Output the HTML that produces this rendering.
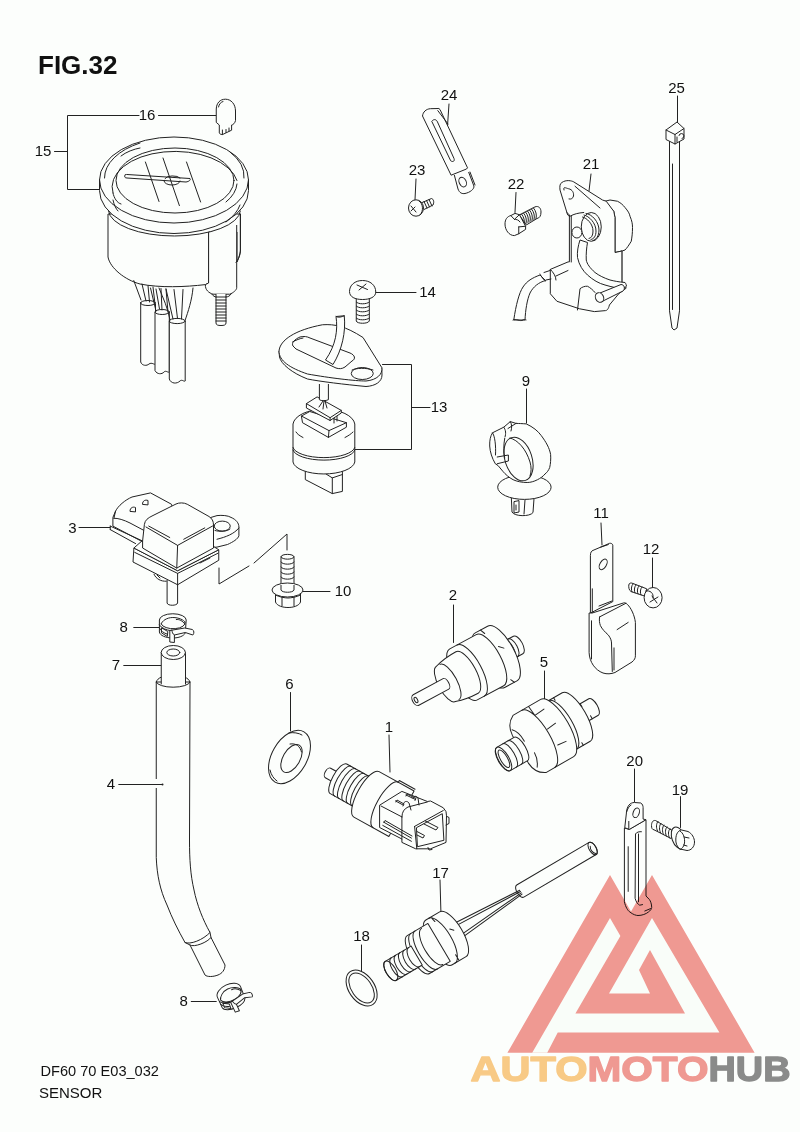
<!DOCTYPE html>
<html><head><meta charset="utf-8">
<style>
html,body{margin:0;padding:0;background:#fcfefc;}
body{width:800px;height:1132px;overflow:hidden;}
svg{display:block;}
.t{font-family:"Liberation Sans",sans-serif;font-size:15px;fill:#111;}
.l{fill:none;stroke:#222;stroke-width:1;stroke-linecap:round;stroke-linejoin:round;}
.w{fill:#fcfefc;stroke:#222;stroke-width:1;stroke-linejoin:round;}
</style></head><body>
<svg width="800" height="1132" viewBox="0 0 800 1132">
<rect width="800" height="1132" fill="#fcfefc"/>
<!-- TITLES -->
<text x="38" y="74" font-family="Liberation Sans" font-weight="bold" font-size="26" fill="#111">FIG.32</text>
<text x="40.5" y="1076.3" font-family="Liberation Sans" font-size="14.6" fill="#111">DF60 70 E03_032</text>
<text x="39" y="1098.4" font-family="Liberation Sans" font-size="15" fill="#111">SENSOR</text>
<!-- LABELS -->
<g class="t" text-anchor="middle">
<text x="147" y="119.8">16</text>
<text x="43" y="155.8">15</text>
<text x="427.5" y="296.8">14</text>
<text x="439" y="412.3">13</text>
<text x="449" y="99.8">24</text>
<text x="417" y="174.8">23</text>
<text x="516" y="188.8">22</text>
<text x="591" y="168.8">21</text>
<text x="676.5" y="92.8">25</text>
<text x="526" y="386.3">9</text>
<text x="601" y="517.8">11</text>
<text x="651" y="553.8">12</text>
<text x="72.5" y="532.8">3</text>
<text x="343" y="595.8">10</text>
<text x="123.75" y="631.8">8</text>
<text x="116" y="669.8">7</text>
<text x="453" y="599.8">2</text>
<text x="544" y="667.3">5</text>
<text x="289.4" y="689.2">6</text>
<text x="389" y="731.8">1</text>
<text x="111" y="789.3">4</text>
<text x="634.7" y="766.4">20</text>
<text x="680" y="794.8">19</text>
<text x="440.5" y="877.8">17</text>
<text x="361.5" y="940.8">18</text>
<text x="183.75" y="1005.8">8</text>
</g>
<!-- LEADERS -->
<path class="l" d="M139,115.5 H67.5 V189.5 H100 M54.5,151.5 H67.5 M158.5,115.5 H216
M376,292.5 H416 M382.5,364.5 H411.5 V449.5 H355 M411.5,407.5 H430
M449,104 L447.5,126 M416,179 L415,200 M516,192.5 L515,212.5 M591,174 L589,191 M677.5,96 V122
M526.5,389 V423 M601,523 L602,545 M652.5,558 V588 M79,527.5 L110,527.5 M303,591.5 H330
M133.75,627.5 H158.75 M123.75,665.5 H161.25 M453.5,605 V642.5 M544.5,671 V700 M290.5,692.5 V731
M389,735 L390,772 M118.75,784.5 H156 M634.5,769 V802 M680.5,796.6 V827.5 M440,880 L441,915
M361.5,945 V971 M191.25,1001.5 H216.25"/>
<!-- PARTS -->
<g id="parts">
<g id="gauge">
<!-- body cylinder -->
<path class="w" d="M108,214 L108,257 C110,268 125,280 140,284 C160,288 185,287 205.4,284.6 L208.6,283 L208.6,232 L237,232 L237,262 C239,258 240.4,252 240.4,250 L240.4,214 Z"/>
<!-- bracket -->
<path class="w" d="M208.6,232.2 L208.6,283 L205.4,284.6 C205,290 209,293 213,294.2 L229.8,294.2 C233,293 236.7,290 236.7,287.8 L236.7,225"/>
<path class="l" d="M240.4,214 L240.4,251.8 C240,256 238,260 236,262.4"/>
<!-- stud -->
<path class="w" d="M216,294 L216,323 C216,325 218,325.5 221,325.5 C224,325.5 226,325 226,323 L226,294"/>
<path class="l" d="M216,297 H226 M216,300 H226 M216,303 H226 M216,306 H226 M216,309 H226 M216,312 H226 M216,315 H226 M216,318 H226 M216,321 H226"/>
<path class="l" d="M211.8,294.2 C213,296 215,297 216,297 M226,297 C228,297 230,296 231,294"/>
<!-- bezel -->
<path class="w" d="M99.5,180 L99.5,190.5 A74.5,43 0 0 0 248.5,190.5 L248.5,180 A74.5,43 0 0 0 99.5,180 Z"/>
<path class="l" d="M108.5,211 A66,26 0 0 0 240.4,211 M99.5,180 A74.5,43 0 0 0 248.5,180"/>
<path class="l" d="M104.5,178 A69.5,40 0 0 1 140,143 M230,152 A69.5,40 0 0 1 244,178 M226,222 A69.5,40 0 0 0 240,205 "/>
<path class="l" d="M121,156 C126,152 134,149 140,148 M113,193 C114,198 117,203 121,204 M113,200 C114,205 116,209 118,211"/>
<path class="l" d="M113,193 A62,34.8 0 0 1 237,180.5 M237,184 A62,34.8 0 0 1 226,202"/>
<ellipse class="l" cx="175" cy="180.5" rx="59" ry="32.5"/>
<!-- needle -->
<path class="l" d="M125,175 C124,177 125,178 127,178 L186,182 C189,181.5 191,180 190,178.5 L127,174.5 Z"/>
<path class="l" d="M164,181 A8,4 0 0 0 180,181 M165,178.5 A8,3.5 0 0 1 180,178"/>
<path class="l" d="M145.4,162 L159,201.5 M163,158 L179.4,205.6 M186.5,162 L200.6,202"/>
</g>
<g id="wires">
<path class="w" d="M140.7,302 L140.7,362 C142,366 147,366 149,364 C152,362 154,365 155.5,364 L155.5,304"/>
<ellipse class="l" cx="148" cy="303" rx="7.4" ry="2.5"/>
<path class="w" d="M155,312 L155,370.6 C157,374.5 162,374.5 164,372 C166,370 168,373 169.3,372 L169.3,312"/>
<ellipse class="l" cx="162.2" cy="312" rx="7.2" ry="2.5"/>
<path class="w" d="M169.3,321 L169.3,379 C171,384 177,384 180,381 C182,379 184,382 185.2,381 L185.2,321"/>
<ellipse class="l" cx="177.2" cy="321" rx="8" ry="2.6"/>
<path class="l" d="M133.8,280.6 L141,300 M142,284 L146,301 M148,285.5 L149.5,302 M153,287 L155,304
M150.5,288 L156,311 M156,289 L159.5,309 M161,288.5 L162,310 M166,289 L168,312
M159,288 C163,298 168,308 170,320 M166,289 L173,319 M174,289.5 L177.5,318.5 M183,289.5 L181.5,319 M193,288 C192,300 188,312 185.2,320"/>
</g>
<g id="p14">
<path class="w" d="M356.25,298 L356.25,321 C357,324 368,324 369.3,321 L369.3,298"/>
<path class="l" d="M356.25,302 C358,304.5 367,304.5 369.3,302 M356.25,306 C358,308.5 367,308.5 369.3,306 M356.25,310 C358,312.5 367,312.5 369.3,310 M356.25,314 C358,316.5 367,316.5 369.3,314 M356.25,318 C358,320.5 367,320.5 369.3,318"/>
<path class="w" d="M349.5,291.5 C349.5,285 355,280.5 362.5,280.5 C370,280.5 375.75,285 375.75,292 C375.75,297 370,299.5 362.5,299.5 C355,299.5 349.5,297 349.5,291.5 Z"/>
<path class="l" d="M357,285 L367.5,289.5 M359,290 L366,284"/>
</g>
<g id="p13">
<!-- bottom connector -->
<path class="w" d="M305.3,470 L305.3,479.6 L332.3,493.6 L342.4,491.4 L342.4,470"/>
<path class="l" d="M332.3,477.9 L332.3,493.6 M326,474 L332.3,477.9 L342.4,474.5"/>
<!-- cylinder -->
<path class="w" d="M293,424 L293,462 A31,13 0 0 0 354.8,462 L354.8,424 A31,16 0 0 0 293,424 Z"/>
<path class="l" d="M293,447.5 A31,11 0 0 0 354.8,447.5 M293,450 A31,11 0 0 0 354.8,450"/>
<path class="l" d="M296,432 C297,434 300,436 303,437.5 M345,437.5 C348,436 351,434 353,432"/>
<!-- lower block -->
<path class="w" d="M301.4,416 L309.8,411.5 L346.4,422.7 L346.4,427.2 L328.4,437.4 L302.5,422.7 Z"/>
<path class="l" d="M301.4,416 L329,430.6 L346.4,422.7 M329,430.6 L328.4,437.4"/>
<!-- upper block -->
<path class="w" d="M306.4,403.6 L317.1,396.9 L341.3,410.4 L341.3,413 L330.1,420.5 L306.4,408 Z"/>
<path class="l" d="M306.4,403.6 L330.1,417.7 L341.3,410.4 M330.1,417.7 L330.1,420.5 M334,418.5 L334,423 M337,416.5 L337,421"/>
<!-- stem -->
<path class="w" d="M319.4,384 L319.4,399.7 C321,401 326,401 328.4,399.7 L328.4,384"/>
<path class="l" d="M323,401 L319,407 M324,401 L323,409 M325,401 L327,408"/>
<!-- plate -->
<path class="w" d="M279,351 L279.5,357 C281,364 292,373 307.5,379 C320,381.5 345,384.5 366,386.5 C375,386 382,382 382,375 L381.75,367.5 Z"/>
<path class="w" d="M279,351 C280,340 295,330 322.5,324.75 C335,324 345,326 363,337.5 L381.75,367.5 C383,374 377,380 366,381 C355,381 330,378 307.5,374 C290,368 279,361 279,351 Z"/>

<path class="w" d="M293,346 C291,343 295,339 300,337 C304,336 307,336.5 310,338 L350,353 C355,355 356,359 352,361 L345,367 C342,369 339,369 336,368 L296,349 Z"/>
<path class="l" d="M292.5,342 C296,340 300,338.5 303,338"/>
<ellipse class="w" cx="362.25" cy="373.5" rx="11" ry="6"/>
<path class="l" d="M352,370 C356,368 366,367.5 373,370"/>
<!-- wire -->
<path class="w" d="M336,316.5 C338,330 336,345 325.5,360 L333,364.5 C342,350 346,332 344.25,315.75 Z"/>
<path class="l" d="M336,316.5 C338,318 342,317 344.25,315.75"/>
</g>

<g id="p24">
<path class="w" d="M422.5,116 C423,112 426,109 430.4,108.7 L438.9,108.5 L440,109.5 L467.5,167.8 L466.5,169 L451.1,175.2 Z"/>
<path class="l" d="M437.8,110.6 L448,124"/>
<path class="w" d="M454.3,175 L458,189 C459.5,193 462,194 465,193.5 C470,192.5 474.5,189 473.9,186 L468.6,172"/>
<path class="l" d="M470,172 L475,185"/>
<ellipse class="l" cx="462.7" cy="182.1" rx="3.5" ry="5" transform="rotate(-25 462.7 182.1)"/>
<path class="l" d="M432,121 C434,118.5 436.5,119.5 437.5,122 L454,158.5 C455,161 453,162.5 451,161 Z"/>
</g>
<g id="p23">
<path class="w" d="M421,203 L431.5,198.5 C433.5,199 434.5,202 433,205 L424,209.5"/>
<path class="l" d="M424,201.5 L427,208 M426.5,200.5 L429.5,207 M429,199.5 L432,206"/>
<ellipse class="w" cx="416" cy="208" rx="7.5" ry="8.2"/>
<path class="l" d="M419,201 C423,203 424,211 420,215"/>
<path class="l" d="M411,206 L416,212 M411,211 L415,207"/>
</g>
<g id="p22">
<path class="w" d="M519.4,215 L535,206.9 C538.5,205.5 541,208 541,212 C541,216 539.5,218 537,218.5 L526.25,225 Z"/>
<path class="l" d="M521.5,214 C524,217 525,221 524,224.5 M523.5,213 C526,216 527,220 526,223.5 M525.5,212 C528,215 529,219 528,222.5 M527.5,211 C530,214 531,218 530,221.5 M529.5,210 C532,213 533,217 532,220.5 M531.5,209 C534,212 535,216 534,219.5 M533.5,208 C536,211 537,215 536,218.5"/>
<path class="w" d="M505,224 C505,219.5 507,216.5 511,215.5 L515,213.4 L519.4,214.7 L525.6,226.25 L525.6,229.4 L518.75,233.75 L514.4,235.6 C509,235.6 505,230 505,224 Z"/>
<path class="l" d="M511.25,216 L514.4,219.4 L519.4,214.7 M514.4,219.4 C516,219 519,220 520,222 M518.75,226.9 L525.6,226.25 M518.75,226.9 L518.75,233.75"/>
</g>
<g id="p21">
<!-- wire -->
<path class="w" d="M540,275 C532,278 527,281 523,287 C519,293 516,305 513.75,320 L525,320 C525.5,310 527,300 530,293 C533,287 539,282 545.6,280.6 Z"/>
<path class="l" d="M513,320 C516,318 520,322 523,320 C524,319 525,320 526,320"/>
<!-- housing -->
<path class="w" d="M605,201.25 L610,200 L617.5,201.25 C621,203 623,205 625,207.5 C628,211 629.5,213.5 630,216.25 C632,221 632.5,224 632.5,227.5 C632.5,233 632,237 631.25,241.25 C629,245 627,248 625,250 L617.5,252.5 L610,253 L606.9,256.25 L606.9,290 L621.9,290 L621.9,251 L615,252.5 L615,217.5 C614.5,215 614,213 613.75,211.25 Z"/>
<!-- top plate + body + lower plate -->
<path class="w" d="M566.9,212.5 L560,190 C559.5,186 560,183.5 561.9,182.5 C564,181 566,180.6 568.75,180.6 C571,180.8 572.5,181.2 573.75,181.9 L602.5,200 L606.25,201.25 L613.75,211.25 L615,217.5 L615,252.5 L621.9,251 L621.9,282 L626.25,288.1 L618.75,293.75 L609.4,305 C608.5,309 607,310.5 605.6,310.6 L594.4,311.6 L579.4,308.75 L556.9,301.25 L550.3,293.75 L550.3,269.4 L568.1,261.9 L569.4,261.9 L569.4,215 Z"/>
<path class="l" d="M575,186.25 L600,208 M571.25,216 L571.25,262 M550.3,269.4 C553,272 556,276 556,280 M577.5,310 L580,288.75 C582,287 585,286 587.5,286.25 C590,287.5 593,290 595,292.5 M556,276 L568,270.5"/>
<path class="l" d="M564,190 C563,186 565.5,188 568.6,188.75 C572.5,189.5 574,193 573.5,196 C573,198.5 571,199.5 569,199"/>
<!-- coil -->
<ellipse class="w" cx="591.25" cy="226.9" rx="10" ry="14.4"/>
<path class="l" d="M586,213.5 C592,214 599,222 599,230 C599,236 596,240 593,240.5 M584,215 C589,216 596,223 596,231 C596,236 594,239 591,239.5 M582.5,217 C587,218 593,224 593,231 C593,235.5 591.5,238 589,238.5"/>
<path class="l" d="M566.9,212.5 C567,215 569,216.5 570,216.25 C574,214 578,213 583.75,212.5"/>
<!-- arm -->
<path class="w" d="M580,240 C578,246 577,252 577.5,257.5 C579,265 583,271 587.5,275 C593,280 599,283.5 605,285 C612,287 618,288.5 623.75,288.75 L626.5,286 C626,284 625.5,283 625,282.5 C619,282 614,281 610,280 C604,278 599,275.5 595,272.5 C590,268 587,264 586.25,260 C586,254 586.5,248 587.5,242.5 Z"/>
<ellipse class="w" cx="576.9" cy="232.5" rx="5" ry="5.5"/>
<path class="w" d="M600,293 L621,284.5 C624.5,284.5 625.5,289 623,291 L602,301.5"/>
<ellipse class="w" cx="599.5" cy="297.5" rx="4" ry="5" transform="rotate(-25 599.5 297.5)"/>
<!-- grommet -->
<path class="l" d="M540,274 C541,276 544,281 545.6,281 M544,272.5 L550,270.5 M546,280 L551,279"/>
</g>
<g id="p25">
<path class="w" d="M669.5,139 L669.5,310.8 L672,328 L674,330 L677,328 L679.5,310.8 L679.5,139"/>
<path class="l" d="M672.5,164 L672.5,309.5"/>
<path class="w" d="M677,122 L684,128.5 L684,139 L675,144 L666,139.5 L666,130 Z"/>
<path class="l" d="M666,130 L675,134.5 L684,128.5 M675,134.5 L675,144"/>
<path class="l" d="M679,135.5 A2.5,2.5 0 1 1 682,138.5 M677,137 L677,142"/>
</g>

<g id="p9">
<!-- stem -->
<path class="w" d="M511.25,496 L512,512 C514,516.5 530,517 533,512.5 L534.2,496"/>
<path class="l" d="M514,502 L514,513 L519,512 L519,501 Z M516,505 L516,510 M525,500 L524,514"/>
<ellipse class="w" cx="524.4" cy="487.2" rx="26.7" ry="12.2"/>
<!-- ring -->
<path class="w" d="M510.3,421.6 L516,423.4 C519,423.5 522,423.6 526.25,423.9 C533,427 538,431 541.25,435.6 C546,442 549.5,448 550.6,454.4 C551,459 550.5,464 549.7,467.5 C548.5,470.5 547,472.5 545,474 C543,476.5 540,478.5 537.5,479.7 C534,481.5 530.5,482.5 527.2,482.5 C522,482.5 517,481.5 513.1,479.7 C509,477.5 505.5,474.5 502.8,471.25 L498.1,465.6 L495.3,463.75 C492,458 490,452 489.7,446 C489.5,440 490.5,436 492.5,432.8 L503.75,427.2 Z"/>
<ellipse class="l" cx="518.5" cy="459" rx="13.5" ry="22.5" transform="rotate(-18 518.5 459)"/>
<path class="l" d="M510,438 C518,440 526,449 530,462 C531.5,467 531.5,472 530,476"/>
<path class="l" d="M504.7,438.4 C503.5,445 503.5,452 504.7,458 M497.2,457 L508.4,455 L508.4,461 L497.2,463.75 M492.5,432.8 C495,436 496,446 495.5,455 M503.75,427.2 C506,430 506,434 505,437 M510.3,421.6 C512,424 512,428 511,431 M516,423.4 L508,428.5"/>
</g>
<g id="p11">
<path class="w" d="M590.4,613.1 L590.4,555.5 C590.5,552 591.5,551 593,550.4 L609.6,543.3 C611,543 612.8,544 612.8,545.2 L612.8,601.6 Z"/>
<path class="l" d="M592.3,588.8 L592.3,613 M600.6,547.2 L608.3,544.6 M599,606 L612,601"/>
<ellipse class="l" cx="603.2" cy="564.4" rx="3.2" ry="5.8" transform="rotate(30 603.2 564.4)"/>
<path class="w" d="M589.1,613 L589.1,652.6 C589.5,662 595,670 603,673 C607,674.3 611,674 615,672.5 L632,662 C634.5,660 635.4,658 635.4,655.8 L635.4,622.4 C634.5,615 631,608 627.5,604.5 C626,603 624.5,602.5 623.7,602.9 L592.3,613 Z"/>
<path class="l" d="M599.6,616.9 L625.9,603.3 M599.6,616.9 C599,620 599.5,623 600.4,625.6 C602,629 605,632 608.4,635.1 C610.5,638 611.5,640.5 611.5,643 L612.3,671.5 M614,647.9 L614,670 M617.1,629.6 L628.2,622.4 M591.5,620.8 L591.5,659"/>
</g>
<g id="p12">
<path class="w" d="M628.8,585 C629,583 631,582.5 633,583.5 L646.7,588.8 L646,596.5 L631,591.5 C629,590.5 628.5,587 628.8,585 Z"/>
<path class="l" d="M633,584 C631,586 631,590 632,592 M636,585 C634,587 634,591 635,593 M639,586 C637,588 637,592 638,594 M642,587 C640,589 640,593 641,595"/>
<ellipse class="w" cx="653.1" cy="597.7" rx="9" ry="10.2"/>
<path class="l" d="M645.5,591 C650,590 654,593 653,598 M652,596 L657,603 M650,602 L658,597"/>
</g>

<g id="p2" transform="translate(416,700) rotate(-28.3)">
<path class="w" d="M98,-10 L116,-10 A4.5,10 0 0 1 116,10 L98,10 Z"/>
<path class="l" d="M102,-10 A4.5,10 0 0 1 102,10 M106,-10 A4.5,10 0 0 1 106,10 M110,-10 A4.5,10 0 0 1 110,10"/>
<path class="w" d="M84,-31 L98,-31 A12,31 0 0 1 98,31 L84,31 A12,31 0 0 1 84,-31 Z"/>
<path class="l" d="M90,-31 L92,-26 M93,27 L95,31 M98,-8 L102,-4"/>
<path class="w" d="M54,-29 L84,-29 A11,29 0 0 1 84,29 L54,29 A11,29 0 0 1 54,-29 Z"/>
<path class="l" d="M62,-29 A11,29 0 0 1 62,29"/>
<path class="w" d="M34,-20 C42,-22.5 50,-23.5 58,-23.5 A9,23.5 0 0 1 58,23.5 C50,23.5 42,22.5 34,20 A7.5,20 0 0 1 34,-20 Z"/>
<path class="l" d="M38,-20 A7.5,20 0 0 1 38,20"/>
<path class="w" d="M0,-6 L34,-6 A3,6 0 0 1 34,6 L0,6 A3.5,6 0 0 1 0,-6 Z"/>
<ellipse class="l" cx="0" cy="0" rx="1.5" ry="3"/>
</g>
<g id="p5" transform="translate(503.5,759) rotate(-30)">
<path class="w" d="M88,-9.5 L104,-9.5 A4,9.5 0 0 1 104,9.5 L88,9.5 Z"/>
<path class="l" d="M94,-9.5 L94,-6 M97,6 L97,9.5"/>
<path class="w" d="M64,-28 L84,-28 A10,28 0 0 1 84,28 L64,28 A10,28 0 0 1 64,-28 Z"/>
<path class="l" d="M68,-28 A10,28 0 0 1 68,28 M74,-28 L74,-25 M76,25 L76,28"/>
<path class="w" d="M30,-33 L62,-33 A12,33 0 0 1 62,33 L30,33 C24,30 20,24 19.5,16 L19.5,-16 C20,-24 24,-30 30,-33 Z"/>
<path class="l" d="M40,-33 A12,33 0 0 1 40,33 M48,-33 L49,-22 L60,-23 M53,-4 L63,-5 M54,15 L63,16 M22,-21 C25,-18 27,-11 27,-5 M25,24 C28,20 30,15 30,10"/>
<path class="w" d="M0,-13.5 L20,-13.5 A5,13.5 0 0 1 20,13.5 L0,13.5 A5,13.5 0 0 1 0,-13.5 Z"/>
<path class="l" d="M7,-13.5 A5,13.5 0 0 1 7,13.5 M13,-13.5 A5,13.5 0 0 1 13,13.5"/>
<ellipse class="l" cx="0" cy="0" rx="5.5" ry="13.5"/>
<ellipse class="l" cx="0.5" cy="0" rx="3.5" ry="10"/>
</g>
<g id="p1">
<g transform="translate(328,773) rotate(29)">
<path class="w" d="M0,-5.5 L12,-5.5 L12,5.5 L0,5.5 A3,5.5 0 0 1 0,-5.5 Z"/>
<path class="w" d="M12,-17 L44,-17 L44,17 L12,17 A6,17 0 0 1 12,-17 Z"/>
<path class="l" d="M17,17 A6,17 0 0 1 17,-17 M22,17 A6,17 0 0 1 22,-17 M27,17 A6,17 0 0 1 27,-17 M32,17 A6,17 0 0 1 32,-17 M37,17 A6,17 0 0 1 37,-17"/>
<path class="w" d="M44,-26 L84,-26 L84,26 L44,26 A9,26 0 0 1 44,-26 Z"/>
<path class="l" d="M66,26 A9,26 0 0 1 66,-26 M66,-26 L66,-28 L84,-28"/>
</g>
<path class="w" d="M379.6,805.2 L401.9,791.4 L427.4,801.5 L430.6,801 L443.3,807.8 L446,811.6 L446.5,815.8 L446,842.4 L430.6,848.8 L415.7,848.8 L401.9,842.4 L401.9,839 L379.6,827.5 Z"/>
<path class="l" d="M381,806 L401.9,816.9 M401.9,816.9 C402,812 404,809 408,807 L427.4,802 M401.9,816.9 L401.9,839"/>
<path class="l" d="M414.6,826.4 L443.3,810.5 M414.6,826.4 L416.8,848.8"/>
<path class="l" d="M416.8,827.5 L442.3,813.7 L443.9,840.3 L417.8,846.6 Z"/>
<path class="l" d="M425.3,821 L438,827.5 L436,830 L424,824 M417,831.5 L424.5,835.5 L423,838 L417,835"/>
<path class="l" d="M383.8,822.2 L411.4,838.1 M382.75,825.4 L411.4,841.3 M383.8,822.2 L385,820.5 L412,836"/>
<path class="l" d="M395.5,800.9 L403,805 M396,802 L397,800 L404,804 L403,806 M406,795 L415,799.3 M406,796 L407,794 L416,798.5 L415,800.5 M403.5,804 C404,801 407,800.5 409,803 L411,810 M412.5,798 C414,795.5 417,796 418,798 L419,805"/>
<path class="l" d="M447,816.5 L449,817.5 L449,823.5 L446,825 M428,847.5 L429,850 L432,849.5"/>
</g>
<g id="p17" transform="translate(390.8,970.8) rotate(-30.5)">
<!-- sleeve -->
<path class="w" d="M152,-10 L236,-10 A3.5,7 0 0 1 236,4 L152,4 A3.5,7 0 0 1 152,-10 Z"/>
<ellipse class="l" cx="236" cy="-3" rx="3.5" ry="7"/>
<path class="l" d="M235,-6 C233,-3 234,1 236,3"/>
<!-- wires -->
<path class="l" d="M74,-9 L152,-4 M74,-6 L152,-2.5 M74,5 L152,-1 M74,8 L152,0.5"/>
<!-- hex nut -->
<path class="w" d="M56,-26 L72,-26 A10,26 0 0 1 72,26 L56,26 A10,26 0 0 1 56,-26 Z"/>
<path class="l" d="M59,-26 A10,26 0 0 1 59,26 M62,-25 L63,-20 M64,19 L64,25 M72,-6 L75,-3"/>
<!-- rings -->
<path class="w" d="M32,-22 L56,-22 L56,22 L32,22 A8,22 0 0 1 32,-22 Z"/>
<path class="l" d="M36,22 A8,22 0 0 1 36,-22 M41,22 A8,22 0 0 1 41,-22 M48,21 A8,21 0 0 1 48,-21"/>
<!-- stem -->
<path class="w" d="M0,-11 L30,-11 L30,11 L0,11 A5,11 0 0 1 0,-11 Z"/>
<path class="l" d="M7,11 A5,11 0 0 1 7,-11 M12,11 A5,11 0 0 1 12,-11 M17,11 A5,11 0 0 1 17,-11 M22,11 A5,11 0 0 1 22,-11 M27,11 A5,11 0 0 1 27,-11"/>
<ellipse class="l" cx="0" cy="0" rx="5" ry="11"/>
</g>
<g id="p18">
<ellipse class="w" cx="361.6" cy="988" rx="12.8" ry="20" transform="rotate(-35 361.6 988)"/>
<ellipse class="l" cx="361.6" cy="988" rx="10" ry="17" transform="rotate(-35 361.6 988)"/>
</g>

<g id="p20">
<path class="w" d="M624.4,828 L624.4,901.8 C625.5,907 628,911 630,912.1 C633,914.5 636,915.5 638,915.5 C642,915.5 646,914 648.3,912.1 C650.5,910.5 651.7,909 651.7,907.5 C651.7,904 650.5,901 649.4,899.5 L646,896 L646,819.7 L629.35,829.4 Z"/>
<path class="w" d="M624.75,827.7 L626.5,812.2 C627,806 630,802.5 634.5,802.5 L640.8,803 C642.5,804 643.1,806 643.1,807.6 L643.1,819.1 L646,819.7 L629.35,829.4 Z"/>
<path class="l" d="M628.8,821.4 L628.8,829 M626.5,812.2 C627.5,809 629,806 631,805"/>
<ellipse class="l" cx="636.2" cy="812.8" rx="3" ry="5" transform="rotate(20 636.2 812.8)"/>
<path class="l" d="M628.2,846.7 L628.2,891.4 M641.4,831.7 C639.5,831.5 636.5,832 635.5,834 L635.1,898.3 C636,902 638,904.5 639.7,905.2 L642.55,904.6 M638.5,834 L638.5,901.8 M644.8,911 L650.6,908.6"/>
</g>
<g id="p19">
<path class="w" d="M672.4,830.6 L655.5,820.5 C652.5,820 651.5,823 651.5,825.5 C651.5,828 652,829.5 654,829.8 L671.25,838.6 Z"/>
<path class="l" d="M658,821.5 C656,823.5 656,828 657.5,830.8 M661,823.3 C659,825.3 659,829.8 660.5,832.6 M664,825.1 C662,827.1 662,831.6 663.5,834.4 M667,826.9 C665,828.9 665,833.4 666.5,836.2 M670,828.7 C668,830.7 668,835.2 669.5,838"/>
<ellipse class="w" cx="678.5" cy="838" rx="6.5" ry="11.5" transform="rotate(-20 678.5 838)"/>
<path class="w" d="M681.6,830 L688,831.5 C692,833.5 694.5,838 694.5,842 C694.5,847 691,850.5 687,850.5 L680,849 C677,847 675.5,843 675.8,839 C676,834 678,830.5 681.6,830 Z"/>
<path class="l" d="M680,831 C683.5,833 685,838 684.5,843 C684,846.5 682,849 680,849.5 M684,837 L689,838 M683.5,845 L687,846"/>
</g>
<g id="p6">
<ellipse class="w" cx="289.5" cy="757" rx="17.5" ry="29" transform="rotate(30 289.5 757)"/>
<ellipse class="l" cx="291.5" cy="758.5" rx="8.5" ry="15.5" transform="rotate(30 291.5 758.5)"/>
<path class="l" d="M290,744 C296,743 300,746 301.5,752 M270,770 C271,775 274,779 277,781 M289,733 C293,732 299,733 302,735"/>
</g>

<g id="p3">
<!-- nozzle -->
<path class="w" d="M167.1,580 L167.1,603 C167.5,606 177,606 177.6,603 L177.6,580"/>
<path class="l" d="M154,574.25 C156,579 161,581.5 166.25,581.25 M157,575 L160,578"/>
<!-- ear -->
<path class="w" d="M208.25,518.25 L217,515.6 C222,515 228,515.5 231,517.4 C236,519.5 238.9,523 238.9,527 L238.9,535.75 C238,539 233,542 227.5,544.5 L217,547.1 L205,548 Z"/>
<ellipse class="w" cx="222.25" cy="526.1" rx="8" ry="5"/>
<path class="l" d="M217,539.25 C226,537 234,534 238.9,528 M215,530.5 C220,532 227,531.5 230,529"/>
<!-- base plate -->
<path class="w" d="M133.9,548 L133,562 L177.6,584.75 L218.75,560.25 L218.75,549.75 L177.6,570.75 Z"/>
<path class="w" d="M133.9,548 L177.6,570.75 L218.75,549.75 L208,543 L143,540 Z"/>
<path class="l" d="M134.75,552.4 L177.6,573.4 L217.9,553.25 M177.6,573.4 L177.6,584.75 M200,563 L210,558"/>
<!-- connector block -->
<path class="w" d="M115.5,511.25 C118,506 125,500 132,497 L150.5,492.9 L171.5,504.25 L176,520 L144.4,542.75 L112.9,526.1 L112.9,517.4 Z"/>
<path class="l" d="M113.75,518.25 C118,518 124,520 130,523 L145,531 M110.25,526.1 L142.6,541 M110.25,529.6 L135.6,543.6 M110.25,526.1 L110.25,529.6 M115.5,511.25 L114,518"/>
<path class="l" d="M130,511 C130,507.5 133,506.5 135.5,507.5 L135.5,511.5 Z M142.5,504 C142.5,500.5 145.5,499.5 148,500.5 L148,504.5 Z"/>
<!-- cap -->
<path class="w" d="M144.4,524.4 C145,520 148,518 152,516 L176,504 C179,502.5 184,502.5 187.25,504.25 L209,516.5 C212,518.5 213.5,521 213.5,525 L213.5,548 L176.75,568.1 L142.6,548 L142.6,541 Z"/>
<path class="l" d="M146,527 L177.6,545.4 L212.6,526 M177.6,545.4 L176.75,568.1 M148.75,526.1 L169.75,537.5 M183.75,539.25 L204.75,527.9"/>
</g>
<g id="p10">
<path class="w" d="M281,557 C281,553.5 294,553.5 294,557 L294,588 L281,588 Z"/>
<path class="l" d="M281,557 C282,560 293,560 294,557 M281,562 C282,565 293,565 294,562 M281,567 C282,570 293,570 294,567 M281,572 C282,575 293,575 294,572 M281,577 C282,580 293,580 294,577"/>
<path class="w" d="M275.5,592 L275.5,602 C277,606 283,607.5 288,607.5 C293,607.5 299,606 300.5,602 L300.5,592 Z"/>
<path class="l" d="M282,595 L282,606 M294,595 L294,606 M275.5,595 C279,597 285,598 288,598 C291,598 297,597 300.5,595"/>
<ellipse class="w" cx="287.5" cy="590" rx="15.5" ry="7"/>
<path class="w" d="M281,585 L281,590 C282,593 293,593 294,590 L294,585"/>
</g>
<g id="dash">
<path class="l" d="M219,568 L219,584 L249,566 M254,563 L287,534 L287,550"/>
</g>

<g id="p8a" transform="translate(172.8,620)">
<path class="w" d="M-13.4,0 L-13.4,12 C-13,15.5 -7,18 0,18 C6,18 11,16 12.5,13 L13.4,0 A13.4,6.25 0 0 0 -13.4,0 Z"/>
<path class="l" d="M-11.6,4 A11.6,5.5 0 0 0 12.2,2 M-11.6,4 C-11,1 -6,-2.5 0,-2.5 C6,-2.5 11,0 12.2,2 M-13.4,5 C-11,8.5 -6,10 -3,10.5 M-13.4,8 C-12,11 -9,13 -6,14"/>
<path class="w" d="M-3,10.5 L-3,22 L1.6,22.5 L1.6,15 L12.5,12.5 L20,15 C21.5,13.5 21.5,10.5 19.5,9.5 L12,8 Z"/>
<path class="l" d="M-1,10 C-0.5,12 -0.5,14 1.6,15 M3.5,-0.5 C6.5,-1 10,1 12,4"/>
<path class="l" d="M-11,8 L-5,11.5 L-5.5,16.5 L-11,13 Z"/>
</g>
<g id="p8b" transform="translate(229,992) rotate(-25) scale(0.95)">
<path class="w" d="M-13.4,0 L-13.4,12 C-13,15.5 -7,18 0,18 C6,18 11,16 12.5,13 L13.4,0 A13.4,8 0 0 0 -13.4,0 Z"/>
<path class="l" d="M-11.6,4 A11.6,6.5 0 0 0 12.2,2 M-11.6,4 C-11,1 -6,-3.5 0,-3.5 C6,-3.5 11,0 12.2,2 M-13.4,5 C-11,8.5 -6,10 -3,10.5 M-13.4,8 C-12,11 -9,13 -6,14"/>
<path class="w" d="M-3,10.5 L-3,22 L1.6,22.5 L1.6,15 L12.5,12.5 L20,15 C21.5,13.5 21.5,10.5 19.5,9.5 L12,8 Z"/>
<path class="l" d="M-1,10 C-0.5,12 -0.5,14 1.6,15 M3.5,-1 C6.5,-1.5 10,1 12,4"/>
<path class="l" d="M-11,8 L-5,11.5 L-5.5,16.5 L-11,13 Z"/>
</g>
<g id="p4">
<path class="w" d="M156.25,682 L156.25,857.5 C157,875 160,890 167,905 C172,918 178,930 185,942.5 L190,945 L205,975 C207,977 213,977 218,975 C222,973.5 225,970 225,965 L211,937.5 L210,932.5 C203,920 197,905 194,890 C190.5,875 189.5,860 189.5,840 L190,682 Z"/>
<path class="l" d="M156.25,682 C157,677.5 165,675 173,675 C181,675 189,677.5 190,682"/>
<path class="l" d="M185,942.5 C190,945 203,940 210,932.5 M190,945 C194,948 208,942 211,937.5"/>
<path class="w" d="M153,779 L160,779 L160,788 L153,788 Z" style="stroke:none"/>
<path class="l" d="M150,784.5 L162.5,784.5"/>
<circle cx="162.5" cy="784.5" r="1" fill="#222"/>
</g>
<g id="p7">
<path class="w" d="M161.25,652.5 L161.25,687 L185.5,687 L185.5,652.5 A12.1,7 0 0 0 161.25,652.5 Z" style="stroke:none"/>
<path class="l" d="M161.25,652.5 L161.25,684 M185.5,652.5 L185.5,684"/>
<ellipse class="w" cx="173.3" cy="652.5" rx="12.1" ry="7"/>
<ellipse class="l" cx="173.3" cy="652.5" rx="6.5" ry="3.5"/>
<path class="l" d="M156.25,682 A16.9,5.5 0 0 0 190,682"/>
</g>
<!-- bulb -->
<g id="bulb">
<path class="w" d="M216.25,122.4 L216.25,109 C216.5,103 220,99.2 225.4,99.2 C231,99.2 235.5,104 235.5,111 L235.5,120.6 C235,123 233,125 231.6,125 L231.6,130.2 L222.4,134.6 C220.5,134.5 219.3,133.5 219.3,132.9 L219.3,125 Z"/>
<path class="l" d="M218.5,107 C219,104 221,102 223,101.5 M222.4,134.5 L222.4,130 M226,132.5 L226,129.5 M229,131 L229,128"/>
</g>

</g>
<!-- LOGO -->
<g id="logo" style="mix-blend-mode:multiply">
<path fill="#f29a94" d="M507.4,1052.7 L610,875 L631,911.4 L652,875 L754.6,1052.7 Z"/>
<path fill="#fcfefc" d="M610,918 L532.2,1052.7 L547.2,1052.7 L557.75,1032.6 L719.4,1032.6 L652,918 L609,993.5 L650,993.5 L639,970 L650,950 L685,1013.4 L575.4,1013.4 L620.4,936 Z"/>
<g font-family="Liberation Sans" font-weight="bold" font-size="35" stroke-width="1.3" stroke-linejoin="round">
<text x="470.5" y="1080.5" fill="#fbcb88" stroke="#fbcb88" textLength="117" lengthAdjust="spacingAndGlyphs">AUTO</text>
<text x="587.5" y="1080.5" fill="#f29a94" stroke="#f29a94" textLength="121" lengthAdjust="spacingAndGlyphs">MOTO</text>
<text x="708.5" y="1080.5" fill="#8c8c8c" stroke="#8c8c8c" textLength="82" lengthAdjust="spacingAndGlyphs">HUB</text>
</g>
</g>
</svg>
</body></html>
